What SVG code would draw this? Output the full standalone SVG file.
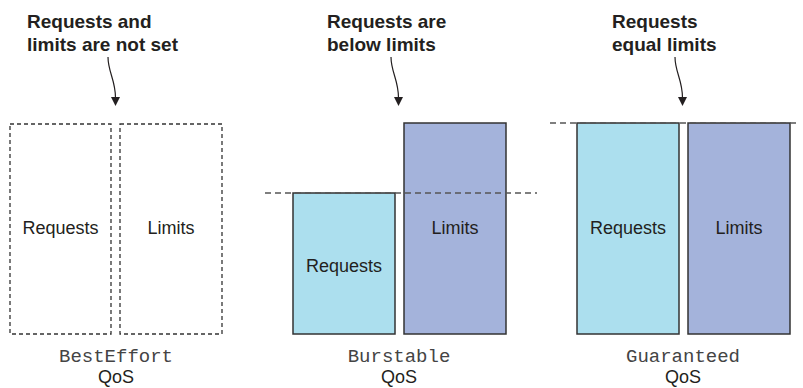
<svg xmlns="http://www.w3.org/2000/svg" width="803" height="388" viewBox="0 0 803 388">
<style>
.title{font-family:"Liberation Sans",Arial,sans-serif;font-weight:bold;font-size:19px;fill:#231f20}
.lbl{font-family:"Liberation Sans",Arial,sans-serif;font-size:18px;fill:#231f20;text-anchor:middle}
.mono{font-family:"Liberation Mono","Courier New",monospace;font-size:19px;fill:#444;text-anchor:middle}
.req{fill:#acdfee;stroke:#333;stroke-width:1.5}
.lim{fill:#a4b3db;stroke:#333;stroke-width:1.5}
.unset{fill:none;stroke:#333;stroke-width:1.3;stroke-dasharray:4 3}
.guide{fill:none;stroke:#555;stroke-width:1.5;stroke-dasharray:6 4}
.arr{fill:none;stroke:#231f20;stroke-width:1.2}
.head{fill:#231f20}
</style>

<g id="besteffort">
  <text class="title" x="27" y="28">Requests and</text>
  <text class="title" x="27" y="51">limits are not set</text>
  <g id="besteffort-requests">
    <rect class="unset" x="10" y="124" width="101" height="210"/>
    <text class="lbl" x="60.5" y="234">Requests</text>
  </g>
  <g id="besteffort-limits">
    <rect class="unset" x="120" y="124" width="102" height="210"/>
    <text class="lbl" x="171" y="234">Limits</text>
  </g>
  <text class="mono" x="116" y="362">BestEffort</text>
  <text class="lbl" x="116" y="383">QoS</text>
</g>

<g id="burstable">
  <text class="title" x="327" y="28">Requests are</text>
  <text class="title" x="327" y="51">below limits</text>
  <g id="burstable-requests">
    <rect class="req" x="293" y="193" width="102" height="141"/>
    <text class="lbl" x="344" y="272">Requests</text>
  </g>
  <g id="burstable-limits">
    <rect class="lim" x="404" y="123" width="102" height="211"/>
    <text class="lbl" x="455" y="234">Limits</text>
  </g>
  <text class="mono" x="399" y="362">Burstable</text>
  <text class="lbl" x="399" y="383">QoS</text>
</g>

<g id="guaranteed">
  <text class="title" x="612" y="28">Requests</text>
  <text class="title" x="612" y="51">equal limits</text>
  <g id="guaranteed-requests">
    <rect class="req" x="577" y="123" width="102" height="211"/>
    <text class="lbl" x="628" y="234">Requests</text>
  </g>
  <g id="guaranteed-limits">
    <rect class="lim" x="688" y="123" width="102" height="211"/>
    <text class="lbl" x="739" y="234">Limits</text>
  </g>
  <text class="mono" x="683" y="362">Guaranteed</text>
  <text class="lbl" x="683" y="383">QoS</text>
</g>

<g id="connectors">
  <path class="arr" d="M108,57 C108,72 115.5,80 115.5,98"/>
  <polygon class="head" points="111,97 120,97 115.5,106"/>
  <path class="arr" d="M391,57 C391,72 398.5,80 398.5,98"/>
  <polygon class="head" points="394,97 403,97 398.5,106"/>
  <path class="arr" d="M675,57 C675,72 682.5,80 682.5,98"/>
  <polygon class="head" points="678,97 687,97 682.5,106"/>
  <line class="guide" x1="265" y1="193" x2="537" y2="193"/>
  <line class="guide" x1="550" y1="123" x2="800" y2="123"/>
</g>
</svg>
